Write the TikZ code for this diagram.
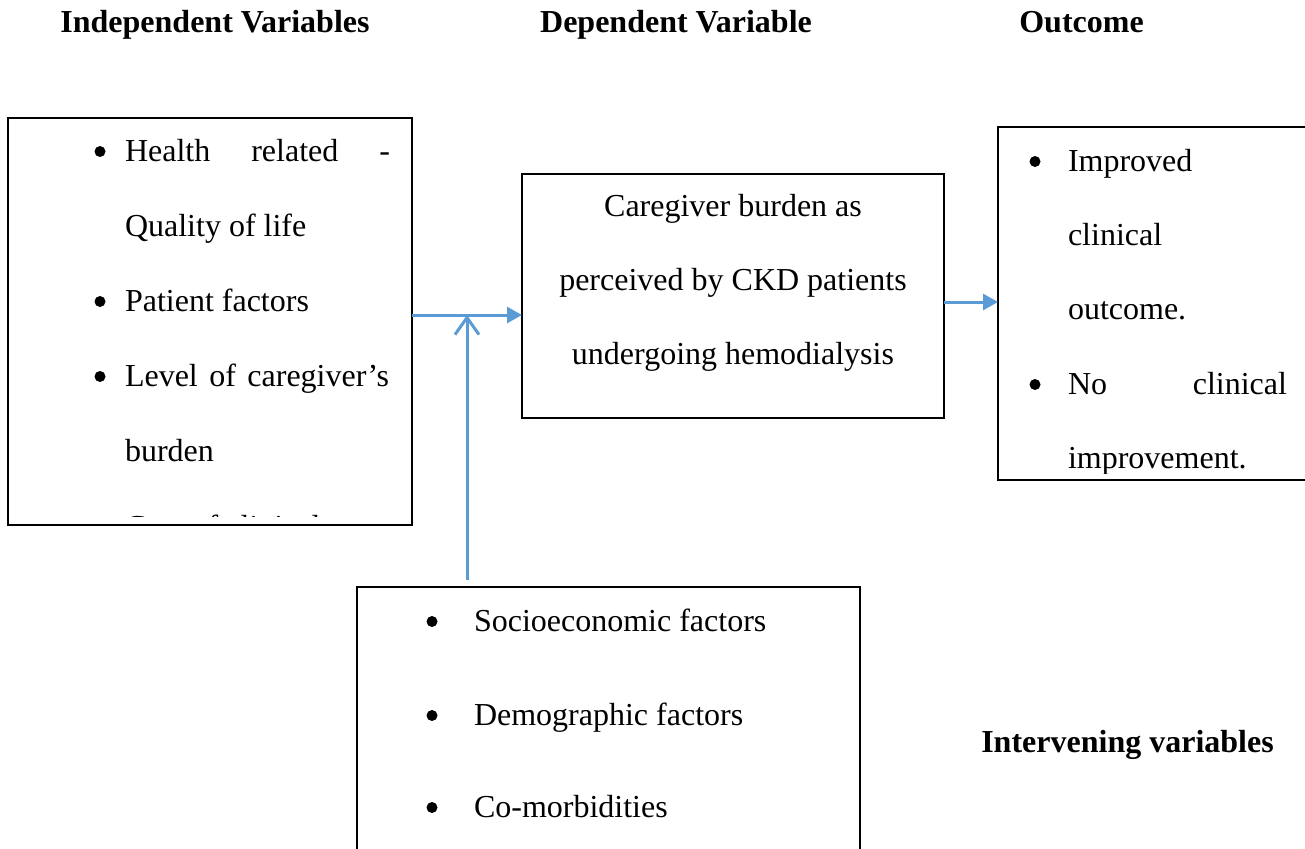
\documentclass[tikz,border=0pt]{standalone}
\usepackage{fontspec}
\setmainfont{Liberation Serif}
\usetikzlibrary{arrows.meta}
\definecolor{arrowblue}{HTML}{5B9BD5}
\begin{document}
\begin{tikzpicture}[x=1pt,y=-1pt,
  every node/.style={font=\fontsize{32}{38}\selectfont, inner sep=0pt, outer sep=0pt},
  frame/.style={draw=black, line width=2pt, rectangle},
  txt/.style={anchor=base west},
  ctxt/.style={anchor=base},
  hdr/.style={anchor=base, font=\fontsize{32}{38}\selectfont\bfseries},
  dot/.style={circle, fill=black, minimum size=11pt},
  link/.style={draw=arrowblue, line width=3pt, -{Triangle[length=15pt,width=16pt]}},
  uplink/.style={draw=arrowblue, line width=3pt, -{Straight Barb[length=17pt,width=24pt]}}]
\useasboundingbox (0,0) rectangle (1305,848);
\clip (0,0) rectangle (1305,848);
\fill[white] (0,0) rectangle (1305,848);

% headers
\node[hdr] (h1) at (215,33) {Independent Variables};
\node[hdr] (h2) at (676,33) {Dependent Variable};
\node[hdr] (h3) at (1081.5,33) {Outcome};
\node[hdr] (h4) at (1127.5,752) {Intervening variables};

% boxes
\node[frame, minimum width=404pt, minimum height=407pt] (indep) at (210,321.5) {};
\node[frame, minimum width=422pt, minimum height=244pt] (dep) at (733,296) {};
\node[frame, minimum width=342pt, minimum height=353pt] (outc) at (1169,303.5) {};
\node[frame, minimum width=503pt, minimum height=313pt] (interv) at (608.5,743.5) {};

% left box text
\node[dot] (lb1) at (100,151.5) {};
\node[txt] (l1) at (125,161) {\makebox[265pt][s]{Health related -}};
\node[txt] (l2) at (125,236) {Quality of life};
\node[dot] (lb2) at (100,301.5) {};
\node[txt] (l3) at (125,311) {Patient factors};
\node[dot] (lb3) at (100,376.5) {};
\node[txt] (l4) at (125,386) {\makebox[264pt][s]{Level of caregiver’s}};
\node[txt] (l5) at (125,461) {burden};
\begin{scope}
  \clip (10,480) rectangle (410,516);
  \node[txt] (l6) at (125,537) {Cost of clinical};
\end{scope}

% middle box text
\node[ctxt] (m1) at (733,216) {Caregiver burden as};
\node[ctxt] (m2) at (733,290) {perceived by CKD patients};
\node[ctxt] (m3) at (733,364) {undergoing hemodialysis};

% right box text
\node[dot] (rb1) at (1035,161.5) {};
\node[txt] (r1) at (1068,171) {Improved};
\node[txt] (r2) at (1068,245) {clinical};
\node[txt] (r3) at (1068,319) {outcome.};
\node[dot] (rb2) at (1035,384.5) {};
\node[txt] (r4) at (1068,394) {\makebox[219pt][s]{No clinical}};
\begin{scope}
  \clip (1000,420) rectangle (1305,473);
  \node[txt] (r5) at (1068,468) {improvement.};
\end{scope}

% bottom box text
\node[dot] (bb1) at (432,621.5) {};
\node[txt] (b1) at (474,631) {Socioeconomic factors};
\node[dot] (bb2) at (432,715.5) {};
\node[txt] (b2) at (474,725) {Demographic factors};
\node[dot] (bb3) at (432,807.5) {};
\node[txt] (b3) at (474,817) {Co-morbidities};

% connectors
\coordinate (j) at (467,315);
\coordinate (k) at (944,302);
\draw[link] (indep.east |- j) -- (dep.west |- j);
\draw[uplink, shorten <=7pt] (interv.north -| j) -- (j);
\draw[link] (dep.east |- k) -- (outc.west |- k);
\end{tikzpicture}
\end{document}
